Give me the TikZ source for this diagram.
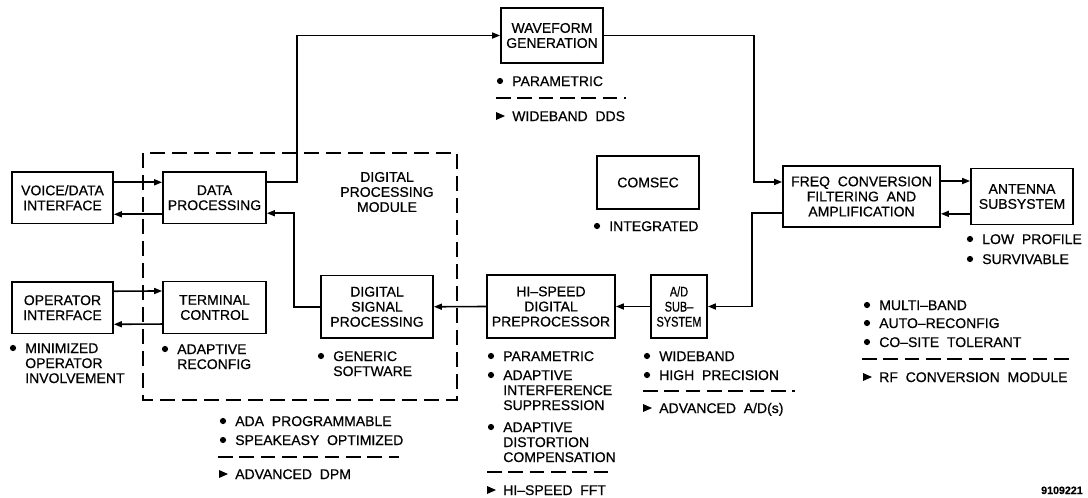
\documentclass[tikz,border=0pt]{standalone}
\usepackage{fontspec}
\setmainfont{Liberation Sans}[FakeBold=0.6]
\usetikzlibrary{arrows.meta}
\newcommand\bx[6]{\node[blk, minimum width={(#4-#2)*0.75pt}, minimum height={(#5-#3)*0.75pt}] (#1) at ({(#2+#4)/2},{(#3+#5)/2}) {#6};}
\newcommand\bul[4]{\fill (#2,#3) circle[radius=3.1];
  \node[note] (#1) at (#2+12,#3+5) {#4};}
\newcommand\cont[4]{\node[note] (#1) at (#2+12,#3+5) {#4};}
\newcommand\tri[4]{\fill (#2-4,#3-4) -- (#2+5,#3) -- (#2-4,#3+4) -- cycle;
  \node[note] (#1) at (#2+12,#3+5) {#4};}
\begin{document}
\begin{tikzpicture}[x=0.75pt,y=-0.75pt,
  every node/.style={font=\fontsize{10.5}{11.3}\selectfont},
  blk/.style={draw, line width=1.3pt, align=center, inner sep=0pt},
  note/.style={anchor=base west, inner sep=0pt},
  arr/.style={line width=1.2pt, -{Triangle[length=6pt,width=4.5pt]}},
  dashbox/.style={line width=1.3pt, dash pattern=on 11pt off 5.5pt},
  sep/.style={line width=1.3pt, dash pattern=on 11pt off 5pt}]
\useasboundingbox (0,0) rectangle (1088,497);
% boxes
\bx{voice}{12}{172}{113}{223.5}{VOICE/DATA\\INTERFACE}
\bx{data}{163}{172}{266}{223.5}{DATA\\PROCESSING}
\bx{wave}{501}{8}{603}{63}{WAVEFORM\\GENERATION}
\bx{op}{12}{282}{113}{333.5}{OPERATOR\\INTERFACE}
\bx{tc}{163}{281.5}{266}{333.5}{TERMINAL\\CONTROL}
\bx{dsp}{321}{275.5}{433}{338}{DIGITAL\\SIGNAL\\PROCESSING}
\bx{hsdp}{487}{275}{615}{338}{HI\textendash SPEED\\DIGITAL\\PREPROCESSOR}
\node[blk, minimum width={56*0.75pt}, minimum height={63*0.75pt},
  font=\fontsize{10.5}{11.3}\selectfont\addfontfeature{FakeStretch=0.78}] (ad) at (679,306.5) {A/D\\SUB\textendash\\SYSTEM};
\bx{comsec}{597}{156}{699}{209}{COMSEC}
\bx{freq}{783}{166}{940}{227}{FREQ\ \ CONVERSION\\FILTERING\ \ AND\\AMPLIFICATION}
\bx{ant}{971}{168.5}{1073}{224.5}{ANTENNA\\SUBSYSTEM}
% digital processing module
\draw[dashbox] (143,153) rectangle (457,400);
\node[align=center] (dpm) at (387,192) {DIGITAL\\PROCESSING\\MODULE};
% connectors
\draw[arr] ([yshift=11.6pt]voice.east) -- ([yshift=11.6pt]data.west);
\draw[arr] ([yshift=-12.4pt]data.west) -- ([yshift=-12.4pt]voice.east);
\draw[arr] ([yshift=12.4pt]op.east) -- ([yshift=12.4pt]tc.west);
\draw[arr] ([yshift=-12.4pt]tc.west) -- ([yshift=-12.4pt]op.east);
\draw[arr] ([yshift=12pt]data.east) -- ++(30,0) |- (wave.west);
\draw[arr] (dsp.west) -- ++(-26,0) |- ([yshift=-11.6pt]data.east);
\draw[arr] (hsdp.west) -- (dsp.east);
\draw[arr] (ad.west) -- (hsdp.east);
\draw[arr] (wave.east) -- ++(150,0) |- ([yshift=10.9pt]freq.west);
\draw[arr] ([yshift=-12.4pt]freq.west) -- ++(-30,0) |- (ad.east);
\draw[arr] ([yshift=11.6pt]freq.east) -- ([yshift=11.6pt]ant.west);
\draw[arr] ([yshift=-13pt]ant.west) -- ([yshift=-13pt]freq.east);
% annotations: waveform
\bul{w1}{500}{81}{PARAMETRIC}
\draw[sep] (496,98) -- (626,98);
\tri{w2}{500}{116}{WIDEBAND\ \ DDS}
% comsec
\bul{c1}{597}{226}{INTEGRATED}
% antenna
\bul{a1}{970}{239}{LOW\ \ PROFILE}
\bul{a2}{970}{259}{SURVIVABLE}
% rf module
\bul{r1}{867}{305}{MULTI\textendash BAND}
\bul{r2}{867}{323}{AUTO\textendash RECONFIG}
\bul{r3}{867}{342}{CO\textendash SITE\ \ TOLERANT}
\draw[sep] (862,359) -- (1073,359);
\tri{r4}{867}{377}{RF\ \ CONVERSION\ \ MODULE}
% operator
\bul{o1}{13}{348}{MINIMIZED}
\cont{o2}{13}{363}{OPERATOR}
\cont{o3}{13}{378}{INVOLVEMENT}
% terminal control
\bul{t1}{165}{349}{ADAPTIVE}
\cont{t2}{165}{364}{RECONFIG}
% dsp
\bul{d1}{321}{356}{GENERIC}
\cont{d2}{321}{371}{SOFTWARE}
% dpm
\bul{m1}{223}{421}{ADA\ \ PROGRAMMABLE}
\bul{m2}{223}{440}{SPEAKEASY\ \ OPTIMIZED}
\draw[sep] (218,457) -- (399,457);
\tri{m3}{223}{474}{ADVANCED\ \ DPM}
% hsdp
\bul{h1}{491}{356}{PARAMETRIC}
\bul{h2}{491}{375}{ADAPTIVE}
\cont{h3}{491}{390}{INTERFERENCE}
\cont{h4}{491}{405}{SUPPRESSION}
\bul{h5}{491}{427}{ADAPTIVE}
\cont{h6}{491}{442}{DISTORTION}
\cont{h7}{491}{457}{COMPENSATION}
\draw[sep] (487,472) -- (615,472);
\tri{h8}{491}{490}{HI\textendash SPEED\ \ FFT}
% a/d
\bul{ad1}{647}{356}{WIDEBAND}
\bul{ad2}{647}{375}{HIGH\ \ PRECISION}
\draw[sep] (643,391) -- (795,391);
\tri{ad3}{647}{408}{ADVANCED\ \ A/D(s)}
% figure number
\node[anchor=base east, inner sep=0pt, font=\fontsize{8}{9}\selectfont\bfseries] (fig) at (1083,494) {9109221};
\end{tikzpicture}
\end{document}
